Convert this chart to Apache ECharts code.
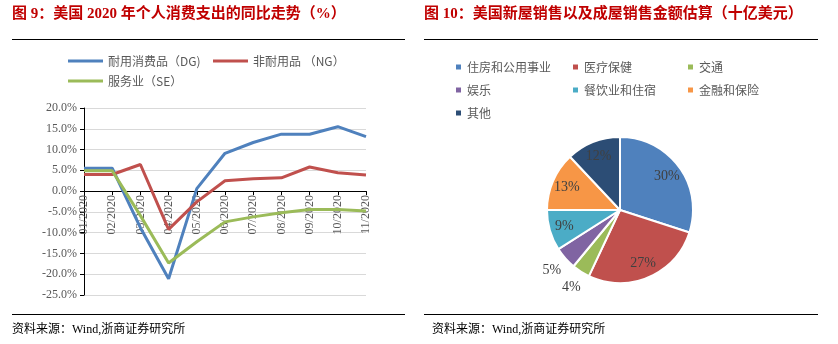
<!DOCTYPE html>
<html>
<head>
<meta charset="utf-8">
<script src="https://cdn.jsdelivr.net/npm/echarts@6/dist/echarts.min.js"></script>
<style>
  html, body { margin: 0; padding: 0; background: #fff; }
  #chart { width: 838px; height: 344px; }
</style>
</head>
<body>
<div id="chart"></div>
<script>
// 个人消费支出同比（%）
const months = ['01/2020', '02/2020', '03/2020', '04/2020', '05/2020', '06/2020',
                '07/2020', '08/2020', '09/2020', '10/2020', '11/2020'];
const durableGoods = [5.5, 5.5, -8.8, -21.1, 0.6, 9.1, 11.7, 13.7, 13.7, 15.5, 13.1];
const nondurableGoods = [4.0, 4.0, 6.4, -9.2, -2.6, 2.5, 3.0, 3.2, 5.8, 4.4, 3.9];
const services = [4.9, 4.9, -5.9, -17.3, -12.2, -7.4, -6.2, -5.2, -4.4, -4.4, -4.8];
const lineNames = ['耐用消费品（DG)', '非耐用品 （NG）', '服务业（SE）'];
const yTicks = { min: -25, max: 20, step: 5 };

// 支出结构（%）
const pieNames = ['住房和公用事业', '医疗保健', '交通', '娱乐', '餐饮业和住宿', '金融和保险', '其他'];
const pieValues = [30, 27, 4, 5, 9, 13, 12];

const lineColors = ['#4F81BD', '#C0504D', '#9BBB59'];
const pieColors = ['#4F81BD', '#C0504D', '#9BBB59', '#8064A2', '#4BACC6', '#F79646', '#2C4D75'];

const serifCJK = '"Liberation Serif", "Noto Sans CJK SC", serif';
const labelGrey = '#595959';

const chart = echarts.init(document.getElementById('chart'), null, { renderer: 'canvas' });

const titleStyle = { color: '#C00000', fontSize: 15, fontWeight: 'bold', fontFamily: serifCJK };
const sourceStyle = { color: '#000', fontSize: 12, fontWeight: 'normal', fontFamily: serifCJK };

// plot area of the line chart
const plot = { left: 84, top: 108, width: 282, height: 187 };
// the category axis sits on the 0% line
const zeroOffset = -plot.height * (0 - yTicks.min) / (yTicks.max - yTicks.min);

// small outer slices get their labels outside the pie
const isOuter = v => v < 6;

function lineSeries(name, data, color) {
  return {
    name, type: 'line', data, symbol: 'none', smooth: false,
    xAxisIndex: 0, yAxisIndex: 0,
    lineStyle: { color, width: 3 }, itemStyle: { color },
    emphasis: { disabled: true }
  };
}

const legendText = { color: labelGrey, fontSize: 12, lineHeight: 14, fontFamily: '"Noto Sans CJK SC", sans-serif' };

const option = {
  animation: false,
  backgroundColor: '#fff',
  title: [
    { text: '图 9：美国 2020 年个人消费支出的同比走势（%）', left: 12, top: 7, padding: 0, textStyle: titleStyle },
    { text: '图 10：美国新屋销售以及成屋销售金额估算（十亿美元）', left: 424, top: 7, padding: 0, textStyle: titleStyle },
    { text: '资料来源：Wind,浙商证券研究所', left: 12, top: 324, padding: 0, textStyle: sourceStyle },
    { text: '资料来源：Wind,浙商证券研究所', left: 432, top: 324, padding: 0, textStyle: sourceStyle }
  ],
  graphic: [
    { type: 'line', shape: { x1: 12, y1: 39.5, x2: 405, y2: 39.5 }, style: { stroke: '#000', lineWidth: 1 } },
    { type: 'line', shape: { x1: 424, y1: 39.5, x2: 818, y2: 39.5 }, style: { stroke: '#000', lineWidth: 1 } },
    { type: 'line', shape: { x1: 12, y1: 314.5, x2: 405, y2: 314.5 }, style: { stroke: '#000', lineWidth: 1 } },
    { type: 'line', shape: { x1: 424, y1: 314.5, x2: 818, y2: 314.5 }, style: { stroke: '#000', lineWidth: 1 } }
  ],
  legend: [
    {
      data: [lineNames[0], lineNames[2]], orient: 'vertical', left: 68, top: 54, padding: 0,
      itemGap: 6, icon: 'rect', itemWidth: 35, itemHeight: 3, textStyle: legendText
    },
    {
      data: [lineNames[1]], orient: 'vertical', left: 213, top: 54, padding: 0,
      itemGap: 6, icon: 'rect', itemWidth: 35, itemHeight: 3, textStyle: legendText
    },
    {
      data: [pieNames[0], pieNames[3], pieNames[6]], orient: 'vertical', left: 454, top: 60, padding: 0,
      itemGap: 9, icon: 'rect', itemWidth: 7, itemHeight: 7, textStyle: legendText
    },
    {
      data: [pieNames[1], pieNames[4]], orient: 'vertical', left: 571, top: 60, padding: 0,
      itemGap: 9, icon: 'rect', itemWidth: 7, itemHeight: 7, textStyle: legendText
    },
    {
      data: [pieNames[2], pieNames[5]], orient: 'vertical', left: 686, top: 60, padding: 0,
      itemGap: 9, icon: 'rect', itemWidth: 7, itemHeight: 7, textStyle: legendText
    }
  ],
  grid: { left: plot.left, top: plot.top, width: plot.width, height: plot.height, containLabel: false },
  xAxis: {
    type: 'category', data: months, boundaryGap: false,
    position: 'bottom', offset: zeroOffset,
    axisLine: { onZero: false, lineStyle: { color: '#000', width: 1 } },
    axisTick: { show: true, length: 4, lineStyle: { color: '#000' } },
    axisLabel: { interval: 0, rotate: 90, margin: 4, color: labelGrey, fontSize: 12, fontFamily: serifCJK },
    splitLine: { show: false }
  },
  yAxis: {
    type: 'value', min: yTicks.min, max: yTicks.max, interval: yTicks.step,
    axisLine: { show: true, lineStyle: { color: '#000', width: 1 } },
    axisTick: { show: true, length: 4, lineStyle: { color: '#000' } },
    axisLabel: { margin: 7, color: labelGrey, fontSize: 12, fontFamily: serifCJK,
                 formatter: v => v.toFixed(1) + '%' },
    splitLine: { show: true, lineStyle: { color: '#D9D9D9', width: 1 } }
  },
  series: [
    {
      name: 'share', type: 'pie', center: [620, 210], radius: [0, 73],
      startAngle: 90, clockwise: true, avoidLabelOverlap: false,
      data: pieNames.map((n, i) => ({ name: n, value: pieValues[i], itemStyle: { color: pieColors[i] } })),
      itemStyle: { borderColor: '#fff', borderWidth: 2 },
      label: { show: false }, labelLine: { show: false },
      emphasis: { disabled: true }
    },
    {
      name: 'shareLabelsInner', type: 'pie', center: [620, 210], radius: [37, 73],
      startAngle: 90, clockwise: true, avoidLabelOverlap: false, silent: true, z: 5,
      data: pieNames.map((n, i) => ({
        name: n, value: pieValues[i],
        label: { show: !isOuter(pieValues[i]) }
      })),
      itemStyle: { color: 'rgba(0,0,0,0)', borderWidth: 0 },
      label: { position: 'inside', formatter: '{c}%', color: '#404040', fontSize: 14, fontFamily: serifCJK },
      labelLine: { show: false },
      emphasis: { disabled: true }
    },
    {
      name: 'shareLabelsOuter', type: 'pie', center: [620, 210], radius: [76, 100],
      startAngle: 90, clockwise: true, avoidLabelOverlap: false, silent: true, z: 5,
      data: pieNames.map((n, i) => ({
        name: n, value: pieValues[i],
        label: { show: isOuter(pieValues[i]) }
      })),
      itemStyle: { color: 'rgba(0,0,0,0)', borderWidth: 0 },
      label: { position: 'inside', formatter: '{c}%', color: '#404040', fontSize: 14, fontFamily: serifCJK },
      labelLine: { show: false },
      emphasis: { disabled: true }
    },
    lineSeries(lineNames[0], durableGoods, lineColors[0]),
    lineSeries(lineNames[1], nondurableGoods, lineColors[1]),
    lineSeries(lineNames[2], services, lineColors[2])
  ]
};

chart.setOption(option);
</script>
</body>
</html>
